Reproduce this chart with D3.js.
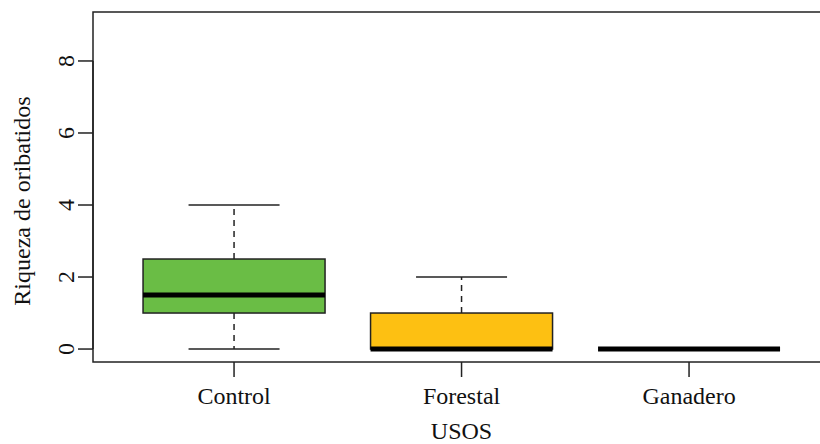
<!DOCTYPE html>
<html><head><meta charset="utf-8">
<script src="https://cdn.jsdelivr.net/npm/d3@7"></script>
<style>body{margin:0;background:#fff}svg{display:block}</style>
</head><body>
<svg id="c" width="820" height="444"></svg>
<script>
const categories = ["Control", "Forestal", "Ganadero"];
const mins    = [0, 0, 0];
const q1s     = [1, 0, 0];
const medians = [1.5, 0, 0];
const q3s     = [2.5, 1, 0];
const maxs    = [4, 2, 0];
const colors  = ["#6abd45", "#fdc012", "#ffffff"];
const yTicks  = [0, 2, 4, 6, 8];
const yLabel = "Riqueza de oribatidos";
const xLabel = "USOS";

const svg = d3.select("#c");
const font = "'Liberation Serif', 'Times New Roman', serif";
const L = 93, T = 12, B = 362;
const unit = 227.5;
const x = d3.scaleLinear().domain([0.38, 3.62]).range([L, L + 3.24 * unit]);
const y = d3.scaleLinear().domain([-0.36, 9.36]).range([B, T]);

// frame
svg.append("rect").attr("x", x(0.38)).attr("y", y(9.36))
  .attr("width", x(3.62) - x(0.38)).attr("height", y(-0.36) - y(9.36))
  .attr("fill", "none").attr("stroke", "#222").attr("stroke-width", 1.5);

const g = svg.append("g");
categories.forEach((c, i) => {
  const cx = x(i + 1);
  const hw = 0.4, cw = 0.2;
  g.append("line").attr("x1", cx).attr("x2", cx).attr("y1", y(q3s[i])).attr("y2", y(maxs[i]))
    .attr("stroke", "#222").attr("stroke-width", 1.5).attr("stroke-dasharray", "6,5");
  g.append("line").attr("x1", cx).attr("x2", cx).attr("y1", y(q1s[i])).attr("y2", y(mins[i]))
    .attr("stroke", "#222").attr("stroke-width", 1.5).attr("stroke-dasharray", "6,5");
  [mins[i], maxs[i]].forEach(v => {
    g.append("line").attr("x1", x(i + 1 - cw)).attr("x2", x(i + 1 + cw)).attr("y1", y(v)).attr("y2", y(v))
      .attr("stroke", "#222").attr("stroke-width", 1.5);
  });
  g.append("rect").attr("x", x(i + 1 - hw)).attr("y", y(q3s[i]))
    .attr("width", x(i + 1 + hw) - x(i + 1 - hw)).attr("height", y(q1s[i]) - y(q3s[i]))
    .attr("fill", colors[i]).attr("stroke", "#222").attr("stroke-width", 1.5);
  g.append("line").attr("x1", x(i + 1 - hw)).attr("x2", x(i + 1 + hw)).attr("y1", y(medians[i])).attr("y2", y(medians[i]))
    .attr("stroke", "#000").attr("stroke-width", 5).attr("stroke-linecap", "butt");
});

// y axis
const ya = svg.append("g").attr("transform", `translate(${L},0)`);
ya.append("line").attr("y1", y(0)).attr("y2", y(8)).attr("stroke", "#222").attr("stroke-width", 1.5);
yTicks.forEach(t => {
  ya.append("line").attr("x1", -15).attr("x2", 0).attr("y1", y(t)).attr("y2", y(t)).attr("stroke", "#222").attr("stroke-width", 1.5);
  ya.append("text").attr("transform", `translate(-19,${y(t)}) rotate(-90)`)
    .attr("text-anchor", "middle").attr("font-family", font).attr("font-size", 24).attr("fill", "#111")
    .text(t);
});
svg.append("text").attr("transform", `translate(30,${(y(0) + y(8)) / 2 - 4}) rotate(-90)`)
  .attr("text-anchor", "middle").attr("font-family", font).attr("font-size", 24).attr("fill", "#111").text(yLabel);

// x axis
const xa = svg.append("g").attr("transform", `translate(0,${B})`);
categories.forEach((c, i) => {
  xa.append("line").attr("x1", x(i + 1)).attr("x2", x(i + 1)).attr("y1", 0).attr("y2", 15).attr("stroke", "#222").attr("stroke-width", 1.5);
  xa.append("text").attr("x", x(i + 1)).attr("y", 42).attr("text-anchor", "middle")
    .attr("font-family", font).attr("font-size", 24).attr("fill", "#111").text(c);
});
svg.append("text").attr("x", x(2)).attr("y", 439).attr("text-anchor", "middle")
  .attr("font-family", font).attr("font-size", 24).attr("fill", "#111").text(xLabel);
</script>
</body></html>
